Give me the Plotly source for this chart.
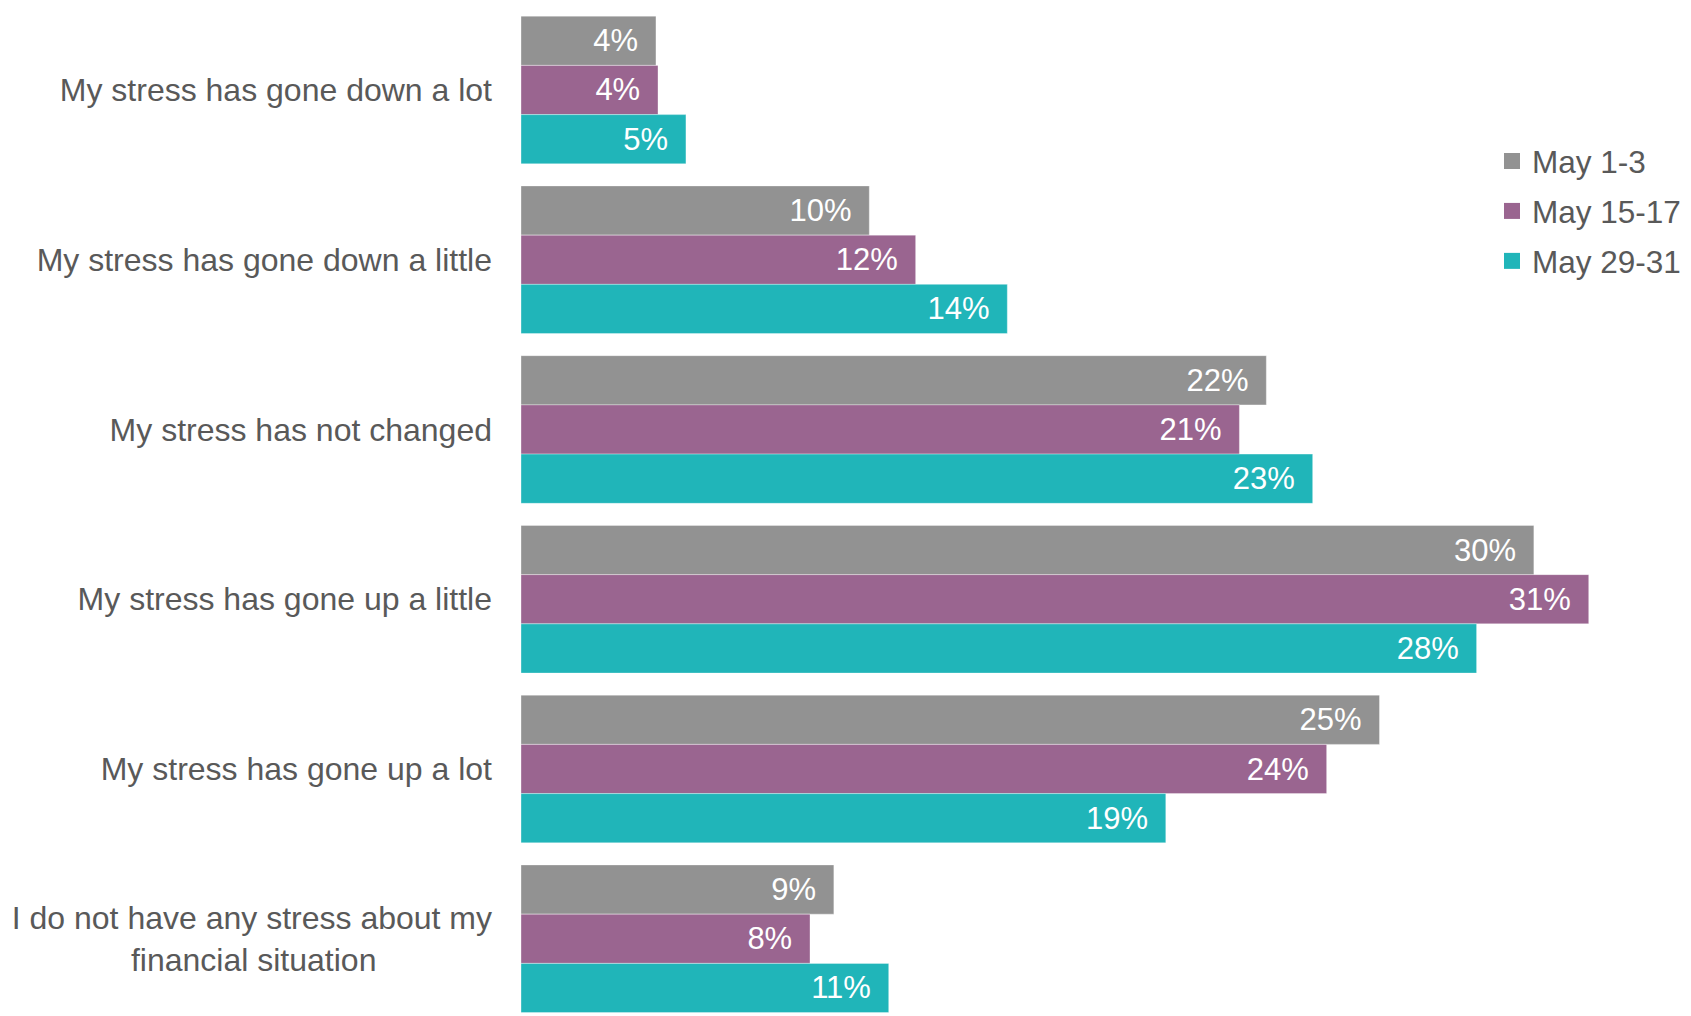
import plotly.graph_objects as go

categories = [
    "My stress has gone down a lot",
    "My stress has gone down a little",
    "My stress has not changed",
    "My stress has gone up a little",
    "My stress has gone up a lot",
    "I do not have any stress about my<br>financial situation" + "\u00a0" * 13,
]
series_names = ["May 1-3", "May 15-17", "May 29-31"]
may_1_3 = [3.96, 10.22, 21.87, 29.72, 25.19, 9.18]
may_15_17 = [4.02, 11.58, 21.08, 31.33, 23.64, 8.48]
may_29_31 = [4.84, 14.27, 23.23, 28.04, 18.92, 10.79]
labels_1_3 = ["4%", "10%", "22%", "30%", "25%", "9%"]
labels_15_17 = ["4%", "12%", "21%", "31%", "24%", "8%"]
labels_29_31 = ["5%", "14%", "23%", "28%", "19%", "11%"]

colors = ["#929292", "#9A6590", "#20B5B9"]
FONT = "Arial, Liberation Sans, sans-serif"
PAD = "\u00a0\u2009"

W, H = 1683, 1008
L, R = 513, 11
PW = W - L - R

fig = go.Figure()
for name, vals, labs, col in zip(series_names,
                                 [may_1_3, may_15_17, may_29_31],
                                 [labels_1_3, labels_15_17, labels_29_31],
                                 colors):
    fig.add_trace(go.Bar(
        y=categories, x=vals, orientation="h", name=name,
        marker=dict(color=col, line=dict(color="rgba(255,255,255,0.35)", width=1)),
        text=[l + PAD for l in labs], textposition="inside", insidetextanchor="end",
        textangle=0, textfont=dict(color="white", size=31, family=FONT),
        constraintext="none", showlegend=False, hoverinfo="skip",
    ))
    # legend proxy
    fig.add_trace(go.Scatter(
        x=[None], y=[None], mode="markers", name=name, legendgroup=name,
        marker=dict(symbol="square", size=16, color=col), showlegend=True,
    ))

fig.update_layout(
    width=W, height=H,
    margin=dict(l=L, r=R, t=0, b=0),
    paper_bgcolor="white", plot_bgcolor="white",
    barmode="group", bargap=0.13, bargroupgap=0,
    font=dict(family=FONT, color="#595959"),
    legend=dict(
        x=(1484 - L) / PW, xanchor="left", y=1 - 126 / H, yanchor="top",
        font=dict(size=31.5, color="#595959", family=FONT),
        bgcolor="rgba(0,0,0,0)", tracegroupgap=6,
    ),
)
fig.update_xaxes(range=[0, PW / 34.08], visible=False, showgrid=False, zeroline=False)
fig.update_yaxes(
    type="category", categoryorder="array", categoryarray=categories,
    range=[5.455, -0.483], showgrid=False, zeroline=False, showline=False,
    ticks="", ticklabelstandoff=28,
    tickfont=dict(size=32, color="#595959", family=FONT),
)

fig.write_html("out.html")
